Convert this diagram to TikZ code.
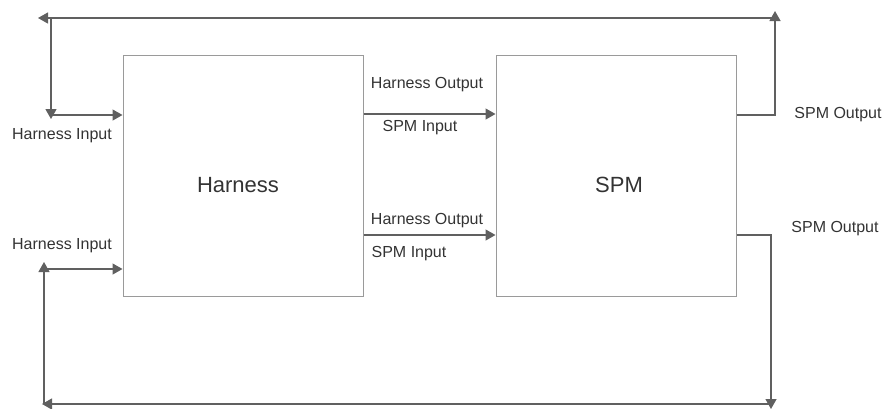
\documentclass[tikz,border=0pt]{standalone}
\usepackage{fontspec}
\setmainfont{Liberation Sans}
\usetikzlibrary{arrows.meta}
\definecolor{wire}{HTML}{606060}
\definecolor{frame}{HTML}{9A9A9A}
\definecolor{ink}{HTML}{333333}

\begin{document}
\begin{tikzpicture}[x=1pt, y=-1pt, >={Triangle[length=10pt,width=11pt]}]
	\tikzstyle{every node} = [rectangle, text=ink, font=\fontsize{16}{19}\selectfont]
	\tikzstyle{block} = [draw=frame, line width=1pt, minimum width=240pt, minimum height=241pt]
	\tikzstyle{title} = [font=\fontsize{22}{26}\selectfont]
	\tikzstyle{wire} = [draw=wire, line width=1.3pt]
	\useasboundingbox (0,0) rectangle (882,408);
	\node[block] (harness) at (243,175.5) {};
	\node[block] (spm)     at (616,175.5) {};
	\node[title] (harnesstitle) at (238,185) {Harness};
	\node[title] (spmtitle)     at (619,185) {SPM};
	% feedback corners
	\coordinate (tr)  at (775,11);
	\coordinate (tl)  at (38,18);
	\coordinate (tv)  at (51,119);
	\coordinate (br)  at (771,409);
	\coordinate (bl)  at (42,404);
	\coordinate (bv)  at (44,262);
	% labels
	\node (hin1)  at (62,136)  {Harness Input};
	\node (hin2)  at (62,246)  {Harness Input};
	\node (hout1) at (427,85)  {Harness Output};
	\node (sin1)  at (420,128) {SPM Input};
	\node (hout2) at (427,221) {Harness Output};
	\node (sin2)  at (409,254) {SPM Input};
	\node (sout1) at (838,115) {SPM Output};
	\node (sout2) at (835,229) {SPM Output};
	% harness to spm
	\draw [wire, ->] (harness.east |- 0,114) -- (spm.west |- 0,114);
	\draw [wire, ->] (harness.east |- 0,235) -- (spm.west |- 0,235);
	% top loop
	\draw [wire, ->] (spm.east |- 0,115) -| (tr);
	\draw [wire, ->] (tr |- tl) -- (tl);
	\draw [wire, ->] (tv |- tl) -- (tv);
	\draw [wire, ->] (tv |- 0,115) -- (harness.west |- 0,115);
	% bottom loop
	\draw [wire, ->] (spm.east |- 0,235) -| (br);
	\draw [wire, ->] (br |- bl) -- (bl);
	\draw [wire, ->] (bv |- bl) -- (bv);
	\draw [wire, ->] (bv |- 0,269) -- (harness.west |- 0,269);
\end{tikzpicture}
\end{document}
